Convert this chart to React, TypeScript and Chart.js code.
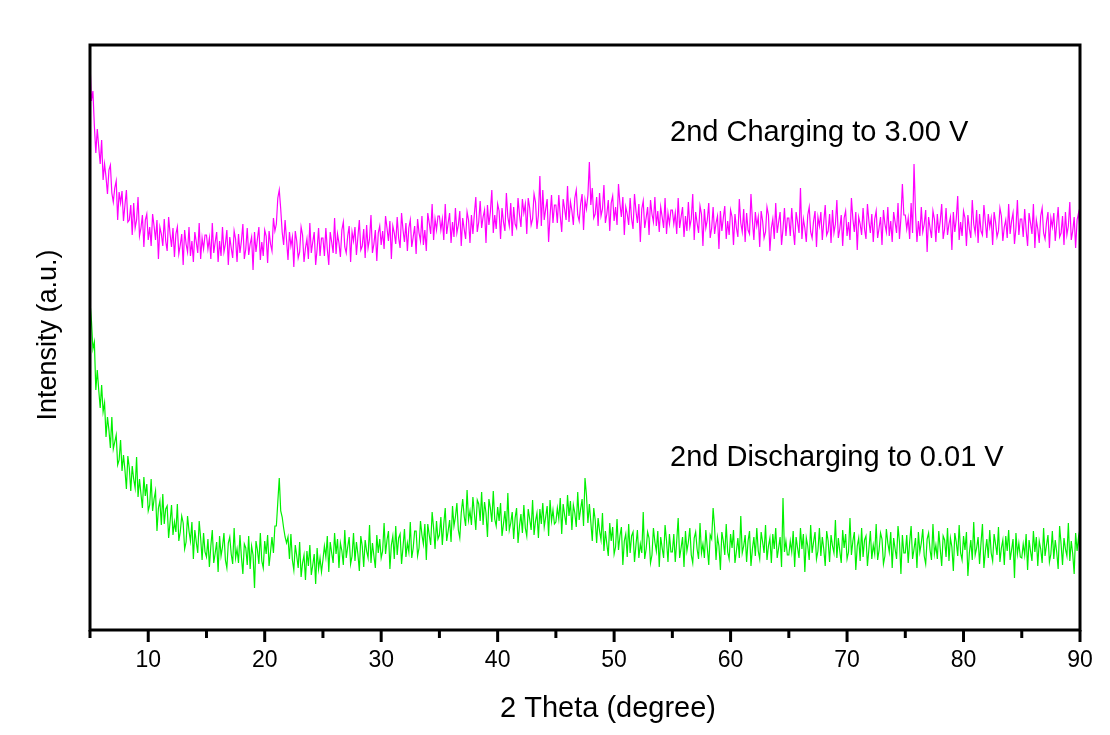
import React, { useEffect, useRef } from 'react';
import { Chart, registerables } from 'chart.js';

Chart.register(...registerables);

// 2-theta scan grid (degrees): one reading every 0.125 deg from 5 to 90
const thetaStart = 5;
const thetaStep = 0.125;

// Intensity (a.u.); each row = one degree (8 readings)
const chargingIntensity = [
  567,529,539,504,477,501,483,466,
  490,450,466,453,436,460,465,437,
  428,442,449,410,438,427,439,409,
  425,440,408,410,425,395,427,402,
  410,433,394,402,415,383,410,416,
  390,403,384,416,404,390,410,371,
  403,396,384,411,389,379,413,396,
  383,402,373,396,403,376,385,396,
  365,400,386,378,403,374,389,368,
  398,388,377,407,371,392,381,395,
  395,381,392,371,407,377,388,398,
  368,389,374,403,378,386,400,365,
  393,382,372,399,391,368,396,377,
  389,406,371,381,402,375,386,393,
  360,398,378,391,403,370,388,374,
  400,394,367,399,386,379,412,399,
  406,432,440,421,398,385,410,390,
  370,398,384,393,363,399,389,372,
  378,403,395,368,382,391,371,407,
  377,388,398,365,381,402,374,392,
  392,374,402,381,365,398,388,377,
  412,376,396,387,373,400,408,383,
  377,394,404,368,398,389,403,375,
  393,410,380,384,401,372,405,382,
  391,415,377,386,400,369,397,404,
  385,399,381,414,402,389,409,371,
  404,397,386,413,392,382,417,400,
  388,407,379,402,410,383,393,404,
  376,411,397,389,414,385,400,379,
  417,407,396,426,390,411,400,414,
  414,400,411,390,426,396,407,417,
  387,408,393,422,397,405,419,384,
  412,401,391,418,410,387,415,396,
  416,433,398,408,429,402,413,420,
  387,425,405,418,440,397,415,401,
  426,419,391,422,408,399,437,413,
  404,427,394,423,406,402,432,415,
  403,431,417,426,396,432,422,405,
  411,436,428,401,415,454,404,440,
  410,421,431,388,414,435,407,425,
  425,407,435,414,398,431,421,410,
  444,408,428,419,405,432,440,415,
  409,426,436,400,430,421,435,468,
  425,442,412,416,433,404,437,414,
  421,445,407,416,430,399,427,434,
  409,423,405,446,426,413,433,395,
  423,416,405,432,411,401,436,419,
  407,426,388,421,429,402,412,423,
  395,430,416,408,433,404,419,398,
  423,413,402,432,396,417,406,420,
  420,406,417,396,432,402,413,423,
  393,414,399,428,403,411,436,390,
  418,407,397,424,416,384,421,402,
  410,427,392,402,423,396,407,414,
  381,419,399,412,424,391,409,395,
  420,413,385,416,402,393,431,407,
  398,421,388,417,400,396,436,409,
  390,418,404,413,383,419,409,392,
  398,423,415,379,402,411,391,427,
  397,408,418,385,401,422,394,412,
  412,394,422,401,385,418,408,397,
  442,391,411,402,388,415,423,398,
  392,409,419,383,413,404,418,390,
  408,425,395,399,416,387,420,397,
  406,430,392,401,415,384,412,419,
  394,408,390,432,411,398,418,380,
  413,406,395,422,401,391,426,409,
  397,416,388,411,419,392,402,413,
  385,420,406,398,423,394,409,388,
  418,408,397,427,391,412,446,415,
  415,401,412,391,427,397,466,418,
  388,409,394,423,398,406,420,378,
  413,402,392,419,411,388,416,397,
  409,426,391,401,422,395,406,413,
  380,418,398,411,434,390,408,394,
  419,412,384,415,401,392,430,406,
  397,420,387,416,399,395,425,408,
  392,416,403,412,385,418,408,393,
  399,422,414,389,403,410,392,426,
  396,409,417,386,402,430,395,411,
  411,393,421,400,384,417,407,396,
  426,382,410,401,387,414,422,397,
  391,408,418,382,412,403,417,389,
  406,423,393,397,414,385,418,395,
  404,428,390,399,413,382,410,417,
  400,
];

const dischargingIntensity = [
  328,309,281,288,240,260,240,222,
  245,218,227,193,213,200,182,213,
  181,188,195,165,170,190,159,175,
  160,141,174,162,139,164,151,142,
  173,133,151,136,122,153,134,146,
  119,125,151,119,131,139,99,122,
  129,105,136,106,121,124,92,108,
  125,95,108,98,126,89,98,114,
  107,81,88,114,99,89,108,71,
  100,88,77,109,92,70,97,78,
  73,91,63,84,100,67,77,88,
  58,94,74,83,97,70,62,87,
  93,76,66,102,72,81,67,95,
  73,56,86,82,65,94,61,84,
  75,42,89,80,66,97,69,62,
  89,76,95,64,78,93,77,104,
  104,128,152,119,113,102,93,87,
  93,71,96,70,60,85,74,62,
  88,53,67,75,50,79,64,85,
  55,65,76,46,82,61,72,58,
  70,84,73,94,58,88,77,67,
  97,76,91,62,87,79,65,100,
  72,83,93,66,74,97,69,88,
  76,59,94,84,63,90,79,72,
  105,67,87,74,62,95,77,91,
  72,79,107,76,90,99,61,85,
  94,71,104,75,92,96,66,83,
  101,73,87,78,108,72,82,99,
  99,74,82,109,95,86,106,70,
  106,95,85,118,102,81,109,91,
  95,113,85,106,122,89,99,110,
  88,124,104,113,127,100,92,117,
  131,114,104,140,110,119,105,133,
  117,100,130,126,109,138,105,128,
  117,93,131,122,108,139,111,104,
  123,109,127,94,106,119,99,137,
  100,107,118,91,112,122,87,104,
  116,97,125,102,94,121,111,100,
  130,95,109,117,92,121,106,127,
  103,113,124,94,130,109,120,106,
  108,122,111,132,96,126,115,105,
  135,114,129,100,125,117,103,138,
  110,121,131,104,152,135,107,126,
  108,89,122,110,87,112,99,90,
  117,79,99,86,74,107,89,103,
  76,83,111,80,94,103,65,89,
  96,73,106,77,94,98,68,85,
  100,72,86,77,118,71,81,98,
  92,67,75,102,88,79,99,63,
  93,82,72,105,89,68,96,78,
  78,96,68,89,112,72,82,93,
  63,99,79,88,102,75,67,92,
  98,81,71,107,77,86,72,100,
  82,65,95,91,122,103,70,93,
  84,60,98,89,75,106,78,71,
  96,82,100,67,79,92,72,114,
  77,84,95,68,89,99,64,81,
  93,74,102,79,71,98,88,77,
  105,70,84,92,67,96,81,102,
  72,82,93,63,132,78,89,75,
  75,89,78,99,63,93,82,72,
  102,81,96,58,92,84,70,105,
  77,88,98,71,79,102,74,93,
  81,64,99,89,68,95,84,77,
  110,72,92,79,67,100,82,96,
  71,78,112,75,89,98,60,84,
  92,69,102,73,90,94,64,81,
  99,71,85,76,106,70,80,97,
  91,66,74,101,87,78,98,62,
  92,81,71,104,88,56,95,77,
  77,95,67,88,104,71,81,92,
  62,98,78,87,101,74,66,91,
  97,80,70,106,76,85,71,99,
  81,64,94,90,73,102,69,92,
  83,59,97,88,74,105,77,70,
  94,80,98,54,77,90,70,108,
  75,82,93,66,87,106,62,79,
  91,72,100,77,69,96,86,75,
  103,68,82,90,65,94,79,100,
  70,80,91,52,97,76,87,73,
  72,86,75,96,60,90,79,69,
  99,78,93,64,89,81,67,102,
  74,85,95,68,76,99,71,90,
  78,61,104,86,65,92,81,74,
  107,69,89,76,56,97,79,93,
  78,
];

const xLabelValues = [10, 20, 30, 40, 50, 60, 70, 80, 90];
const xMin = 5;
const xMax = 90;
const yMin = 0;
const yMax = 585;

const xTitle = '2 Theta (degree)';
const yTitle = 'Intensity (a.u.)';
const chargingLabel = '2nd Charging to 3.00 V';
const dischargingLabel = '2nd Discharging to 0.01 V';

const FONT = 'Arial, "Liberation Sans", sans-serif';

const toPoints = (arr: number[]) =>
  arr.map((v, i) => ({ x: thetaStart + i * thetaStep, y: v }));

const decorPlugin = {
  id: 'decor',
  beforeDraw(chart: any) {
    const { ctx, width, height } = chart;
    ctx.save();
    ctx.fillStyle = '#ffffff';
    ctx.fillRect(0, 0, width, height);
    ctx.restore();
  },
  afterDraw(chart: any) {
    const { ctx, chartArea } = chart;
    const { left, right, top, bottom } = chartArea;
    const xs = chart.scales.x;
    ctx.save();
    ctx.strokeStyle = '#000';
    ctx.lineWidth = 3;
    xs.ticks.forEach((t: any) => {
      const px = xs.getPixelForValue(t.value);
      const major = xLabelValues.includes(t.value);
      ctx.beginPath();
      ctx.moveTo(px, bottom);
      ctx.lineTo(px, bottom + (major ? 12 : 8));
      ctx.stroke();
    });
    ctx.strokeRect(left, top, right - left, bottom - top);

    ctx.fillStyle = '#000';
    ctx.textBaseline = 'alphabetic';
    ctx.font = `29px ${FONT}`;
    ctx.textAlign = 'center';
    ctx.fillText(xTitle, 608, 717);
    ctx.save();
    ctx.translate(56, 335);
    ctx.rotate(-Math.PI / 2);
    ctx.font = `27px ${FONT}`;
    ctx.textAlign = 'center';
    ctx.fillText(yTitle, 0, 0);
    ctx.restore();
    ctx.font = `29px ${FONT}`;
    ctx.textAlign = 'left';
    ctx.fillText(chargingLabel, 670, 141);
    ctx.fillText(dischargingLabel, 670, 466);
    ctx.restore();
  },
};

export default function App() {
  const canvasRef = useRef<HTMLCanvasElement | null>(null);

  useEffect(() => {
    const canvas = canvasRef.current;
    if (!canvas) return;
    const chart = new Chart(canvas, {
      type: 'line',
      data: {
        datasets: [
          {
            label: chargingLabel,
            data: toPoints(chargingIntensity),
            borderColor: '#ff00ff',
            borderWidth: 1.2,
            pointRadius: 0,
            tension: 0,
          },
          {
            label: dischargingLabel,
            data: toPoints(dischargingIntensity),
            borderColor: '#00f000',
            borderWidth: 1.2,
            pointRadius: 0,
            tension: 0,
          },
        ],
      },
      options: {
        responsive: false,
        animation: false,
        devicePixelRatio: 1,
        layout: { padding: { left: 90, right: 30, top: 45, bottom: 0 } },
        plugins: {
          legend: { display: false },
          tooltip: { enabled: false },
        },
        scales: {
          x: {
            type: 'linear',
            min: xMin,
            max: xMax,
            grid: { display: false, drawTicks: false },
            border: { display: false },
            ticks: {
              stepSize: 5,
              autoSkip: false,
              maxRotation: 0,
              padding: 17,
              color: '#000',
              font: { family: FONT, size: 23 },
              callback: (v: any) => (xLabelValues.includes(Number(v)) ? String(v) : ''),
            },
            afterFit: (s: any) => {
              s.height = 105;
            },
          },
          y: {
            display: false,
            min: yMin,
            max: yMax,
          },
        },
      },
      plugins: [decorPlugin],
    });
    return () => chart.destroy();
  }, []);

  return (
    <div style={{ position: 'fixed', left: 0, top: 0, width: 1110, height: 735, background: '#fff' }}>
      <canvas ref={canvasRef} width={1110} height={735} style={{ display: 'block' }} />
    </div>
  );
}
